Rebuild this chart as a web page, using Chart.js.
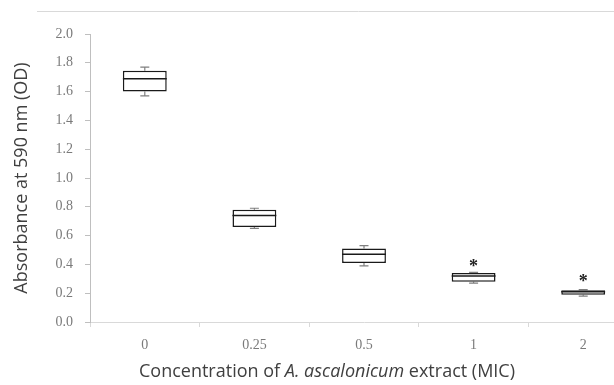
<!DOCTYPE html>
<html>
<head>
<meta charset="utf-8">
<script src="https://cdn.jsdelivr.net/npm/chart.js@4/dist/chart.umd.min.js"></script>
<style>
  html, body { margin: 0; padding: 0; background: #fff; overflow: hidden; width: 614px; height: 385px; }
  canvas { display: block; }
</style>
</head>
<body>
<canvas id="cht" width="680" height="385"></canvas>
<script>
// concentration groups (x categories)
const concs = ["0", "0.25", "0.5", "1", "2"];
// box plot values
const whiskerLow  = [1.57, 0.65, 0.39, 0.27, 0.18];
const boxLow      = [1.60, 0.66, 0.41, 0.28, 0.19];
const medians     = [1.69, 0.74, 0.47, 0.32, 0.21];
const boxHigh     = [1.745, 0.78, 0.51, 0.34, 0.22];
const whiskerHigh = [1.77, 0.79, 0.53, 0.345, 0.225];
// significance stars (value where the * sits), null = none
const starAt = [null, null, null, 0.41, 0.30];

const yTitle = "Absorbance at 590 nm (OD)";
const xTitleParts = [["Concentration of ", ""], ["A. ascalonicum", "italic "], [" extract (MIC)", ""]];

const tickFont = { family: "Liberation Serif", size: 14 };
const titleFont = "18px 'Open Sans'";

const boxExtras = {
  id: "boxExtras",
  beforeDraw(chart) {
    const ctx = chart.ctx;
    // light frame line at the top
    ctx.save();
    ctx.strokeStyle = "#d9d9d9";
    ctx.lineWidth = 1;
    ctx.beginPath();
    ctx.moveTo(37, 11.5);
    ctx.lineTo(chart.width, 11.5);
    ctx.stroke();
    ctx.restore();
  },
  beforeDatasetsDraw(chart) {
    const ctx = chart.ctx, y = chart.scales.y;
    const meta = chart.getDatasetMeta(0);
    ctx.save();
    ctx.strokeStyle = "#7f7f7f";
    ctx.lineWidth = 1.2;
    meta.data.forEach((bar, i) => {
      const x = bar.x, cap = 4.5;
      const pairs = [[boxHigh[i], whiskerHigh[i]], [boxLow[i], whiskerLow[i]]];
      pairs.forEach(([from, to]) => {
        ctx.beginPath();
        ctx.moveTo(x, y.getPixelForValue(from));
        ctx.lineTo(x, y.getPixelForValue(to));
        ctx.moveTo(x - cap, y.getPixelForValue(to));
        ctx.lineTo(x + cap, y.getPixelForValue(to));
        ctx.stroke();
      });
    });
    ctx.restore();
  },
  afterDatasetsDraw(chart) {
    const ctx = chart.ctx, y = chart.scales.y;
    const meta = chart.getDatasetMeta(0);
    ctx.save();
    ctx.strokeStyle = "#1a1a1a";
    ctx.lineWidth = 1.5;
    meta.data.forEach((bar, i) => {
      const half = bar.width / 2, py = y.getPixelForValue(medians[i]);
      ctx.beginPath();
      ctx.moveTo(bar.x - half, py);
      ctx.lineTo(bar.x + half, py);
      ctx.stroke();
      if (starAt[i] != null) {
        ctx.fillStyle = "#222";
        ctx.font = "bold 18px 'Liberation Serif'";
        ctx.textAlign = "center";
        ctx.textBaseline = "middle";
        ctx.fillText("*", bar.x, y.getPixelForValue(starAt[i]) + 4);
      }
    });
    ctx.restore();
  },
  afterDraw(chart) {
    const ctx = chart.ctx, area = chart.chartArea;
    ctx.save();
    ctx.fillStyle = "#404040";
    ctx.textBaseline = "middle";
    // y axis title
    ctx.font = titleFont;
    ctx.translate(22, (area.top + area.bottom) / 2);
    ctx.rotate(-Math.PI / 2);
    ctx.textAlign = "center";
    ctx.fillText(yTitle, 0, 0);
    ctx.restore();
    // x axis title with italic species name
    ctx.save();
    ctx.fillStyle = "#404040";
    ctx.textBaseline = "middle";
    ctx.textAlign = "left";
    let total = 0;
    xTitleParts.forEach(([t, st]) => { ctx.font = st + titleFont; total += ctx.measureText(t).width; });
    let x = 327 - total / 2;
    xTitleParts.forEach(([t, st]) => {
      ctx.font = st + titleFont;
      ctx.fillText(t, x, 372);
      x += ctx.measureText(t).width;
    });
    ctx.restore();
  }
};

new Chart("cht", {
  type: "bar",
  data: {
    labels: concs,
    datasets: [{
      data: concs.map((c, i) => [boxLow[i], boxHigh[i]]),
      backgroundColor: "#ffffff",
      borderColor: "#1a1a1a",
      borderWidth: 1.5,
      borderSkipped: false,
      barPercentage: 0.4,
      categoryPercentage: 1
    }]
  },
  options: {
    responsive: false,
    animation: false,
    layout: { padding: { top: 34, right: 42, left: 0, bottom: 0 } },
    plugins: { legend: { display: false }, tooltip: { enabled: false } },
    scales: {
      x: {
        grid: { drawOnChartArea: false, color: "#d9d9d9", tickLength: 5 },
        border: { color: "#d9d9d9" },
        ticks: { font: tickFont, color: "#7a7a7a", padding: 10 },
        afterFit(s) { s.height = 63; }
      },
      y: {
        min: 0,
        max: 2,
        ticks: { stepSize: 0.2, callback: v => v.toFixed(1), font: tickFont, color: "#7a7a7a", padding: 12 },
        grid: { drawOnChartArea: false, color: "#bfbfbf", tickLength: 5 },
        border: { color: "#bfbfbf" },
        afterFit(s) { s.width = 90; }
      }
    }
  },
  plugins: [boxExtras]
});
</script>
</body>
</html>
